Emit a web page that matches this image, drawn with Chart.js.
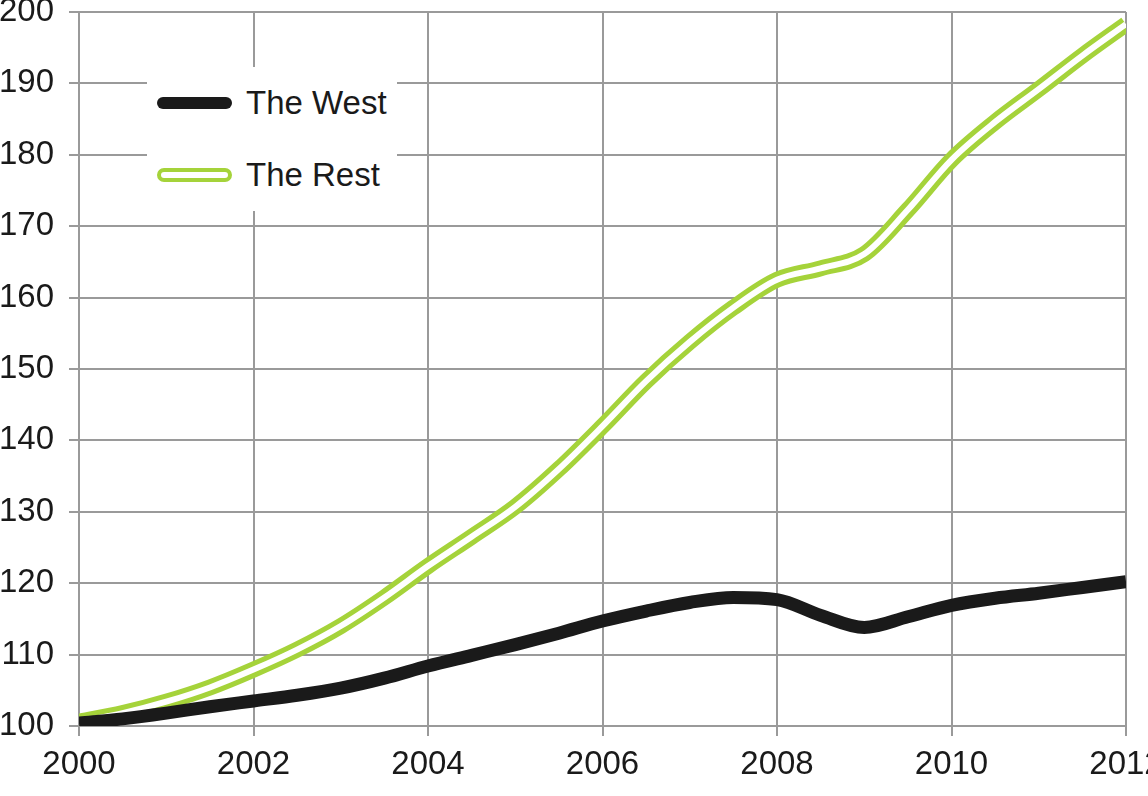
<!DOCTYPE html>
<html>
<head>
<meta charset="utf-8">
<script src="https://cdn.jsdelivr.net/npm/chart.js@4"></script>
<style>
  html, body { margin: 0; padding: 0; background: #fff; overflow: hidden; }
  #wrap { position: relative; width: 1148px; height: 796px; }
  #legend { position: absolute; left: 147px; top: 67px; width: 250px; height: 144px; background: #fff;
            font-family: "Liberation Sans", Arial, Helvetica, sans-serif; font-size: 33px; color: #1a1a1a; }
  .item { position: absolute; left: 10px; height: 40px; display: flex; align-items: center; }
  .swatch { width: 75px; box-sizing: border-box; border-radius: 7px; margin-right: 14px; }
</style>
</head>
<body>
<div id="wrap">
  <canvas id="c" width="1148" height="796"></canvas>
  <div id="legend"></div>
</div>
<script>
const years = [2000, 2000.5, 2001, 2001.5, 2002, 2002.5, 2003, 2003.5, 2004, 2004.5, 2005, 2005.5, 2006,
               2006.5, 2007, 2007.5, 2008, 2008.5, 2009, 2009.5, 2010, 2010.5, 2011, 2011.5, 2012];
const theWest = [100.4, 101.0, 101.8, 102.7, 103.5, 104.3, 105.3, 106.7, 108.4, 109.9, 111.4, 113.0, 114.7,
                 116.1, 117.3, 118.0, 117.7, 115.5, 113.8, 115.3, 116.9, 117.9, 118.6, 119.4, 120.2];
const theRest = [100.6, 101.8, 103.4, 105.4, 107.9, 110.7, 114.0, 118.0, 122.4, 126.5, 130.7, 136.0, 142.0,
                 148.3, 153.8, 158.6, 162.5, 164.1, 166.1, 172.3, 179.3, 184.6, 189.2, 193.9, 198.3];
const seriesNames = ["The West", "The Rest"];
const xTickStep = 2;
const yTickStep = 10;

const GREEN = "#a5d33a";
const BLACK = "#1a1a1a";
const GRID = "#9a9a9a";
const toPts = arr => arr.map((v, i) => ({ x: years[i], y: v }));

Chart.defaults.font.family = '"Liberation Sans", Arial, Helvetica, sans-serif';
Chart.defaults.color = BLACK;

const lineCommon = { pointRadius: 0, cubicInterpolationMode: "monotone" };

new Chart(document.getElementById("c"), {
  type: "line",
  data: {
    datasets: [
      Object.assign({ label: seriesNames[0], data: toPts(theWest), borderColor: BLACK, borderWidth: 13, order: 0 }, lineCommon),
      Object.assign({ label: seriesNames[1] + " inner", data: toPts(theRest), borderColor: "#ffffff", borderWidth: 6, order: 1 }, lineCommon),
      Object.assign({ label: seriesNames[1], data: toPts(theRest), borderColor: GREEN, borderWidth: 16, order: 2 }, lineCommon)
    ]
  },
  options: {
    responsive: false,
    animation: false,
    layout: { autoPadding: false, padding: { top: 12, right: 22, left: 0, bottom: 0 } },
    plugins: { legend: { display: false }, tooltip: { enabled: false } },
    scales: {
      x: {
        type: "linear", min: years[0], max: years[years.length - 1],
        ticks: { stepSize: xTickStep, padding: 9, font: { size: 33 }, color: BLACK,
                 callback: v => String(v) },
        grid: { color: GRID, lineWidth: 2, tickLength: 10 },
        border: { color: GRID, width: 2 },
        afterFit: s => { s.height = 70; s.paddingLeft = 0; s.paddingRight = 0; }
      },
      y: {
        min: 100, max: 200,
        ticks: { stepSize: yTickStep, padding: 15, font: { size: 33 }, color: BLACK },
        grid: { color: GRID, lineWidth: 2, tickLength: 10 },
        border: { color: GRID, width: 2 },
        afterFit: s => { s.width = 79; s.paddingTop = 0; s.paddingBottom = 0; }
      }
    }
  }
});

// Legend (HTML overlay inside the plot area)
const legend = document.getElementById("legend");
const legendItems = [
  { text: seriesNames[0], style: "height:12px;background:" + BLACK + ";border-radius:6px;", top: 16 },
  { text: seriesNames[1], style: "height:14px;background:#fff;border:4px solid " + GREEN + ";border-radius:7px;", top: 88 }
];
legendItems.forEach(it => {
  const d = document.createElement("div");
  d.className = "item";
  d.style.top = it.top + "px";
  const sw = document.createElement("div");
  sw.className = "swatch";
  sw.style.cssText = it.style;
  const t = document.createElement("span");
  t.textContent = it.text;
  d.appendChild(sw); d.appendChild(t);
  legend.appendChild(d);
});
</script>
</body>
</html>
